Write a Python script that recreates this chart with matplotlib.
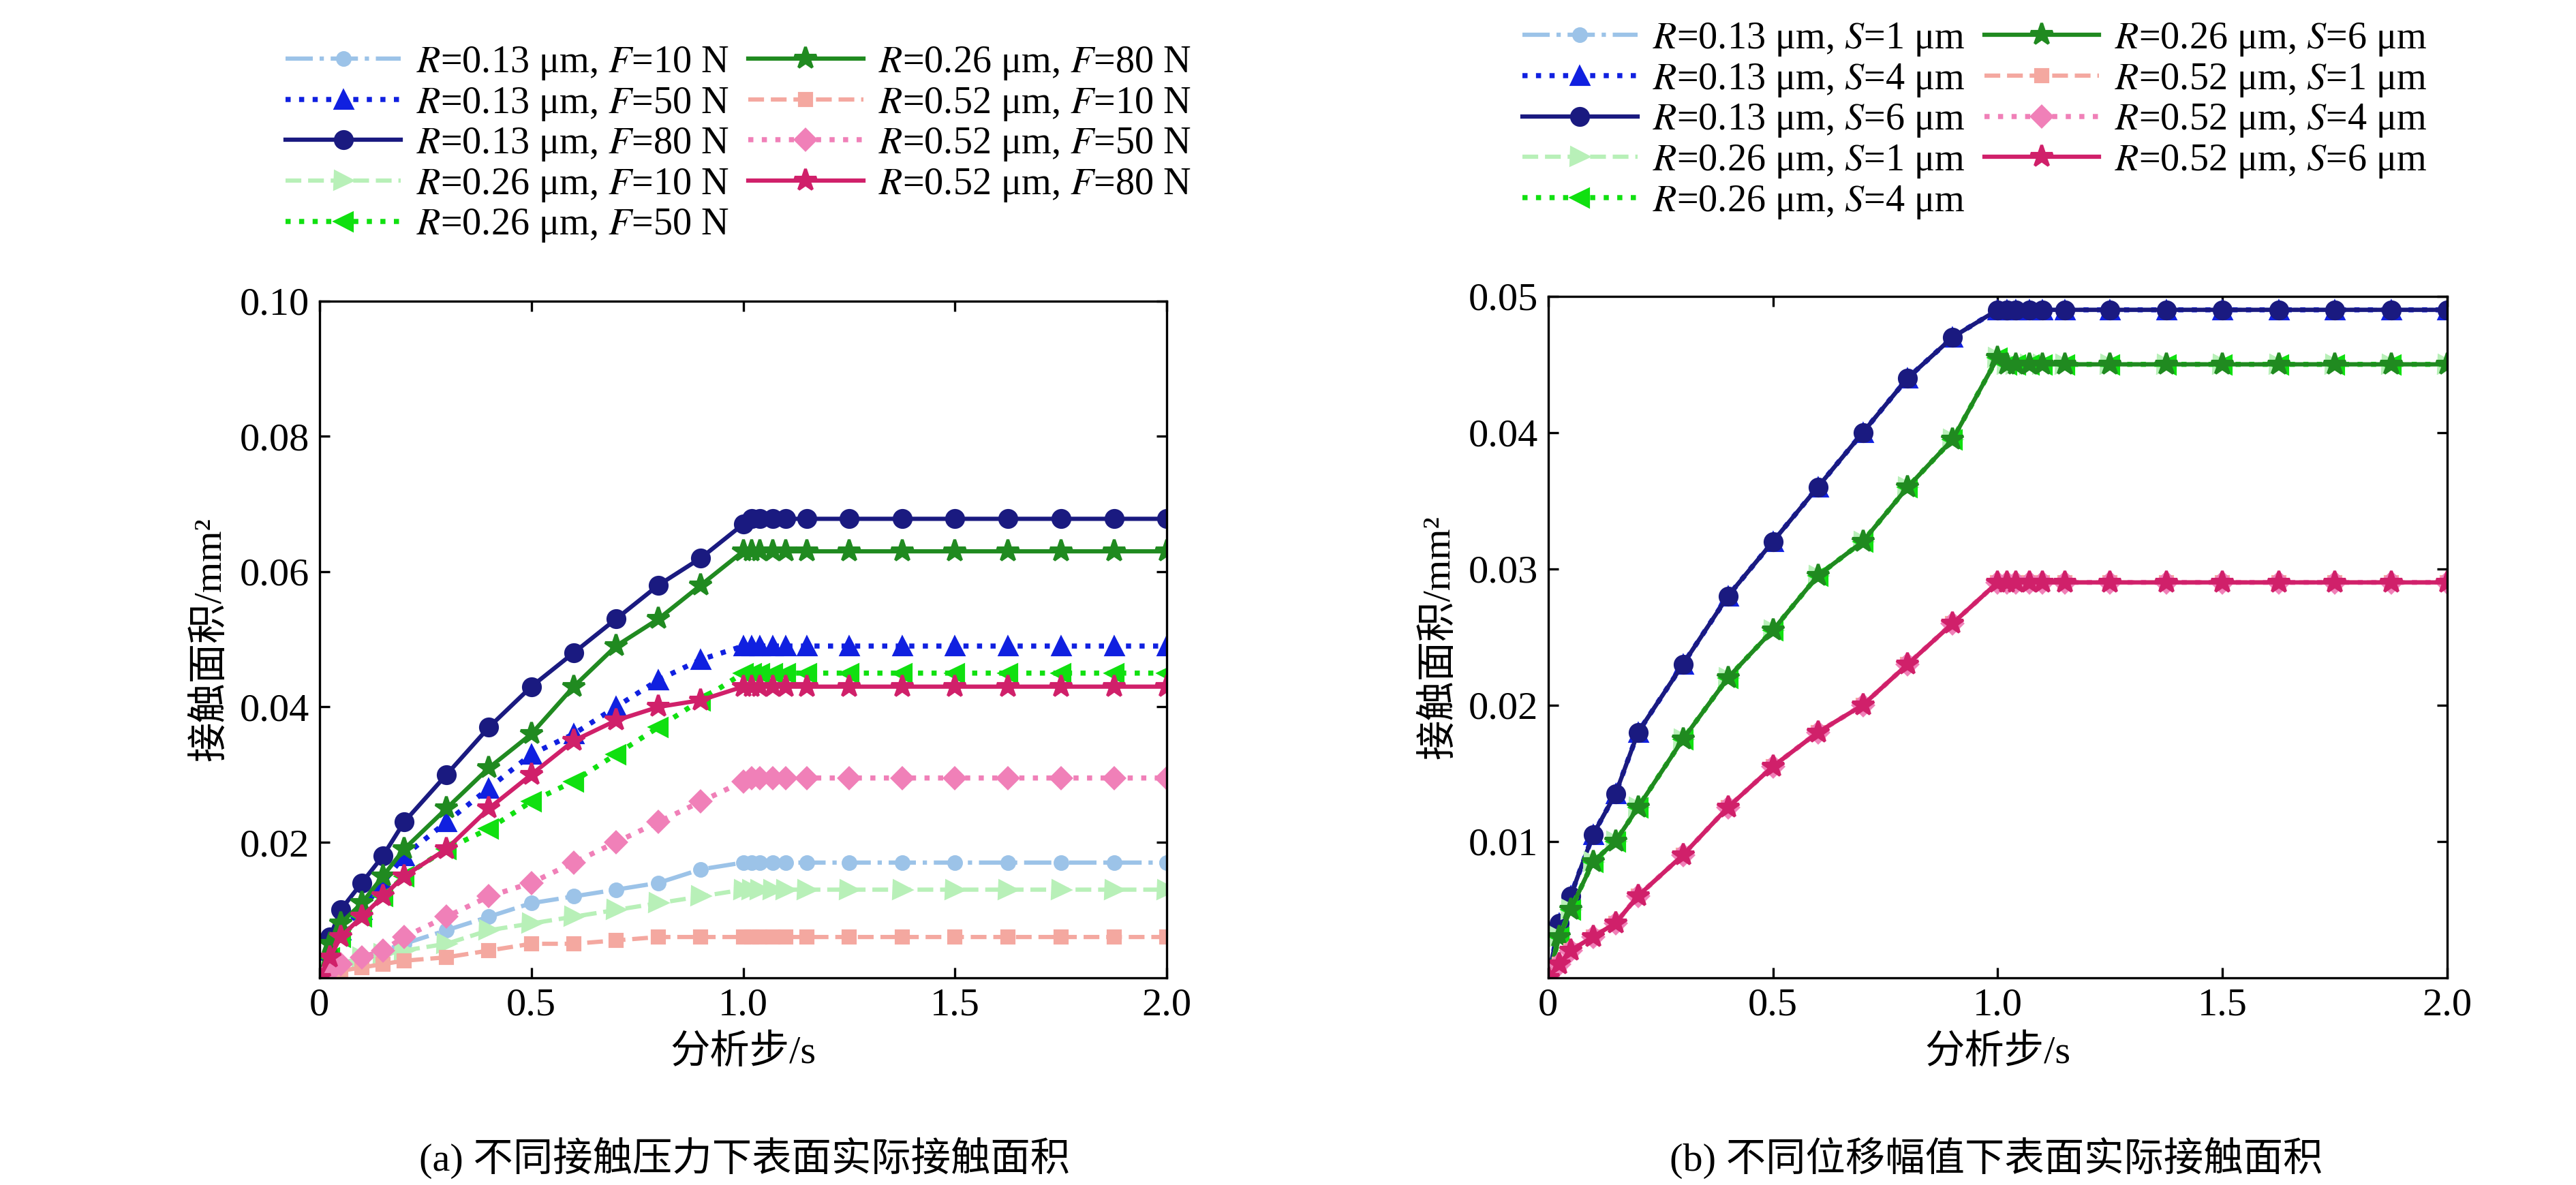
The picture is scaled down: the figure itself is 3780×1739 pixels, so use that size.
import matplotlib
matplotlib.use("Agg")
import matplotlib.pyplot as plt

plt.rcParams['font.family'] = ['Liberation Serif', 'Noto Sans CJK SC', 'DejaVu Sans']
plt.rcParams['mathtext.fontset'] = 'stix'
plt.rcParams['font.size'] = 11

# ---- data ----
t = [0, 0.025, 0.05, 0.1, 0.15, 0.2, 0.3, 0.4, 0.5, 0.6, 0.7, 0.8, 0.9, 1.0,
     1.02, 1.04, 1.07, 1.1, 1.15, 1.25, 1.375, 1.5, 1.625, 1.75, 1.875, 2.0]

def flat(ramp, end):
    return ramp + [end] * 12

# (a) contact force
a_13_10 = flat([0, .001, .002, .003, .004, .005, .007, .009, .011, .012, .013, .014, .016, .017], .017)
a_13_50 = flat([0, .004, .007, .010, .014, .018, .023, .028, .033, .036, .040, .044, .047, .049], .049)
a_13_80 = flat([0, .006, .010, .014, .018, .023, .030, .037, .043, .048, .053, .058, .062, .067], .0678)
a_26_10 = flat([0, .001, .002, .003, .0035, .004, .005, .007, .008, .009, .010, .011, .012, .013], .013)
a_26_50 = flat([0, .003, .006, .009, .012, .015, .019, .022, .026, .029, .033, .037, .041, .045], .045)
a_26_80 = flat([0, .005, .008, .011, .015, .019, .025, .031, .036, .043, .049, .053, .058, .063], .063)
a_52_10 = flat([0, .0005, .001, .0015, .002, .0025, .003, .004, .005, .005, .0055, .006, .006, .006], .006)
a_52_50 = flat([0, .001, .002, .003, .004, .006, .009, .012, .014, .017, .020, .023, .026, .029], .0295)
a_52_80 = flat([0, .003, .006, .009, .012, .015, .019, .025, .030, .035, .038, .040, .041, .043], .043)

# (b) displacement amplitude
b_13 = flat([0, .004, .006, .0105, .0135, .018, .023, .028, .032, .036, .040, .044, .047, .049], .049)
b_26 = flat([0, .003, .005, .0085, .010, .0125, .0175, .022, .0255, .0295, .032, .036, .0395, .0455], .045)
b_52 = flat([0, .001, .002, .003, .004, .006, .009, .0125, .0155, .018, .020, .023, .026, .029], .029)

# style per (R, load level)
styles = {
    ("0.13", 1): dict(color="#9cc3e8", ls="-.", marker="o", ms=4.5),
    ("0.13", 2): dict(color="#1020e0", ls=":", marker="^", ms=6, lw=1.8),
    ("0.13", 3): dict(color="#1a1a80", ls="-", marker="o", ms=6),
    ("0.26", 1): dict(color="#b8f0b8", ls="--", marker=">", ms=6),
    ("0.26", 2): dict(color="#10e010", ls=":", marker="<", ms=6, lw=1.8),
    ("0.26", 3): dict(color="#208a20", ls="-", marker="*", ms=8),
    ("0.52", 1): dict(color="#f4a8a0", ls="--", marker="s", ms=4.5),
    ("0.52", 2): dict(color="#f080b8", ls=":", marker="D", ms=5, lw=1.8),
    ("0.52", 3): dict(color="#d0206a", ls="-", marker="*", ms=8),
}

series_a = [("0.13", 1, "10", a_13_10), ("0.13", 2, "50", a_13_50), ("0.13", 3, "80", a_13_80),
            ("0.26", 1, "10", a_26_10), ("0.26", 2, "50", a_26_50), ("0.26", 3, "80", a_26_80),
            ("0.52", 1, "10", a_52_10), ("0.52", 2, "50", a_52_50), ("0.52", 3, "80", a_52_80)]
series_b = [("0.13", 1, "1", b_13), ("0.13", 2, "4", b_13), ("0.13", 3, "6", b_13),
            ("0.26", 1, "1", b_26), ("0.26", 2, "4", b_26), ("0.26", 3, "6", b_26),
            ("0.52", 1, "1", b_52), ("0.52", 2, "4", b_52), ("0.52", 3, "6", b_52)]

fig = plt.figure(figsize=(12.6, 5.797), dpi=300)
axa = fig.add_axes([0.124, 0.175, 0.329, 0.571])
axb = fig.add_axes([0.601, 0.175, 0.349, 0.575])


def style_axes(ax, yticks):
    ax.set_xlim(0, 2.0)
    ax.set_xticks([0, 0.5, 1.0, 1.5, 2.0])
    ax.set_xticklabels(["0", "0.5", "1.0", "1.5", "2.0"])
    ax.set_yticks(yticks)
    ax.set_yticklabels([f"{v:.2f}" for v in yticks])
    ax.tick_params(direction="in", top=True, right=True, labelsize=14)
    ax.set_xlabel("分析步/s", fontsize=14)
    ax.set_ylabel("接触面积/mm²", fontsize=14)


for R, lvl, load, y in series_a:
    st = dict(styles[(R, lvl)])
    st.setdefault("lw", 1.5)
    axa.plot(t, y, label=rf"$R$={R} μm, $F$={load} N", **st)
axa.set_ylim(0, 0.1)
style_axes(axa, [0.02, 0.04, 0.06, 0.08, 0.10])

for R, lvl, amp, y in series_b:
    st = dict(styles[(R, lvl)])
    st.setdefault("lw", 1.5)
    axb.plot(t, y, label=rf"$R$={R} μm, $S$={amp} μm", **st)
axb.set_ylim(0, 0.05)
style_axes(axb, [0.01, 0.02, 0.03, 0.04, 0.05])

leg_kw = dict(ncol=2, frameon=False, fontsize=13.5, handlelength=3.0,
              columnspacing=0.5, labelspacing=0.1, handletextpad=0.4,
              borderaxespad=0)
axa.legend(loc="upper left", bbox_to_anchor=(0.105, 0.975),
           bbox_transform=fig.transFigure, **leg_kw)
axb.legend(loc="upper left", bbox_to_anchor=(0.585, 0.995),
           bbox_transform=fig.transFigure, **leg_kw)

fig.text(0.289, 0.012, "(a) 不同接触压力下表面实际接触面积", ha="center", fontsize=14)
fig.text(0.775, 0.012, "(b) 不同位移幅值下表面实际接触面积", ha="center", fontsize=14)

fig.savefig("out.png", dpi=300)
